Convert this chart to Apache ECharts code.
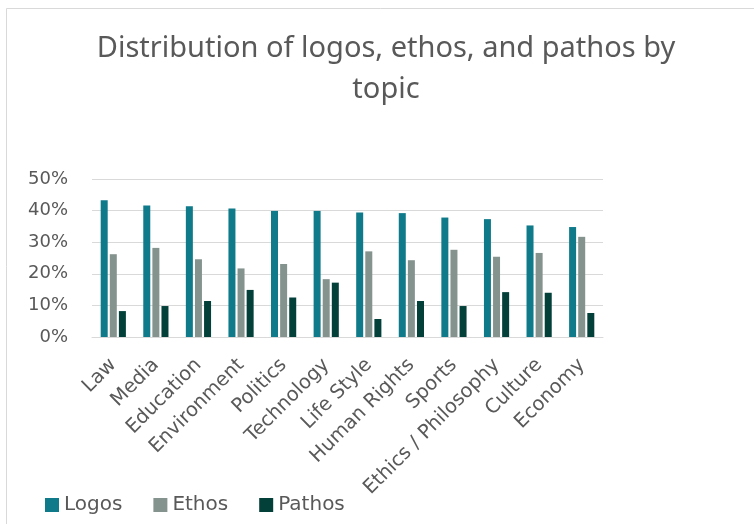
<!DOCTYPE html>
<html>
<head>
<meta charset="utf-8">
<script src="https://cdn.jsdelivr.net/npm/echarts@6/dist/echarts.min.js"></script>
<style>html,body{margin:0;padding:0;background:#fff;}#c{width:754px;height:524px;}</style>
</head>
<body>
<div id="c"></div>
<script>
const categories = ['Law','Media','Education','Environment','Politics','Technology','Life Style','Human Rights','Sports','Ethics / Philosophy','Culture','Economy'];
const logos  = [43.3, 41.6, 41.4, 40.7, 39.9, 39.9, 39.4, 39.2, 37.8, 37.3, 35.3, 34.8];
const ethos  = [26.2, 28.2, 24.6, 21.7, 23.1, 18.3, 27.1, 24.3, 27.6, 25.4, 26.6, 31.7];
const pathos = [8.2, 9.8, 11.4, 14.9, 12.5, 17.2, 5.7, 11.4, 9.8, 14.2, 14.0, 7.6];
const yTicks = [0, 10, 20, 30, 40, 50];

const chart = echarts.init(document.getElementById('c'), null, {renderer: 'canvas'});
const font = 'Noto Sans';
const font2 = 'DejaVu Sans';
const txt = '#595959';
chart.setOption({
  animation: false,
  backgroundColor: '#fff',
  graphic: [{
    type: 'rect', shape: {x: 6.5, y: 8.5, width: 800, height: 600},
    style: {fill: 'none', stroke: '#d9d9d9', lineWidth: 1}, silent: true, z: -1
  }],
  title: {
    text: 'Distribution of logos, ethos, and pathos by\ntopic',
    left: 381, top: 23, textAlign: 'center',
    textStyle: {fontFamily: font, fontSize: 29, fontWeight: 'normal', color: txt, lineHeight: 41}
  },
  legend: {
    left: 40, top: 490,
    itemWidth: 14, itemHeight: 14, itemGap: 31,
    icon: 'rect',
    textStyle: {fontFamily: font2, fontSize: 20, color: txt}
  },
  grid: {left: 92, right: 151, top: 179, bottom: 187, outerBoundsMode: 'none', containLabel: false},
  xAxis: {
    type: 'category', data: categories,
    axisLine: {lineStyle: {color: '#d9d9d9', width: 1}},
    axisTick: {show: false},
    axisLabel: {rotate: 45, interval: 0, fontFamily: font2, fontSize: 19.5, color: txt, margin: 25}
  },
  yAxis: {
    type: 'value', min: yTicks[0], max: yTicks[yTicks.length - 1], interval: 10,
    axisLine: {show: false}, axisTick: {show: false},
    splitLine: {lineStyle: {color: '#d9d9d9', width: 1}},
    axisLabel: {formatter: v => v + '%', fontFamily: font2, fontSize: 18, color: txt, margin: 24}
  },
  series: [
    {name: 'Logos', type: 'bar', data: logos, barWidth: 7, barGap: '30%', itemStyle: {color: '#0E7A8A'}},
    {name: 'Ethos', type: 'bar', data: ethos, barWidth: 7, barGap: '30%', itemStyle: {color: '#85938F'}},
    {name: 'Pathos', type: 'bar', data: pathos, barWidth: 7, barGap: '30%', itemStyle: {color: '#03403A'}}
  ]
});
</script>
</body>
</html>
